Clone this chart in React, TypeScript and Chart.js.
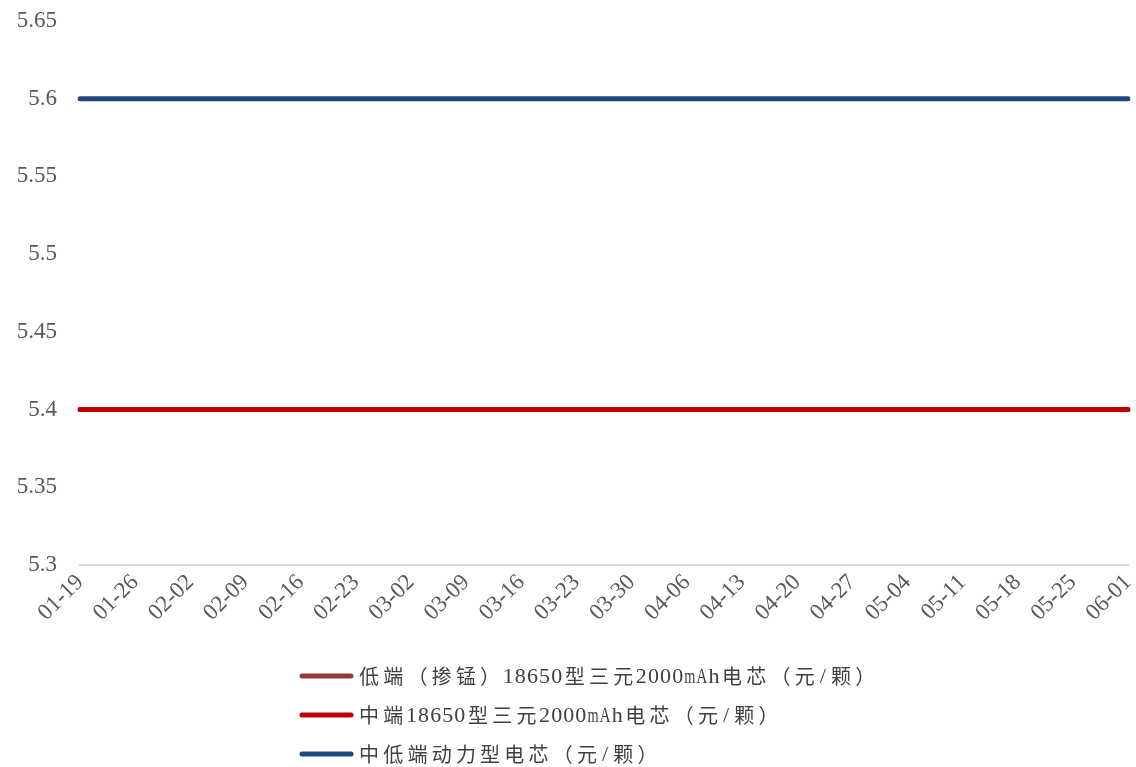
import React, { useEffect, useRef } from "react";
import { Chart, registerables } from "chart.js";

Chart.register(...registerables);

const categories = [
  "01-19", "01-26", "02-02", "02-09", "02-16", "02-23", "03-02", "03-09", "03-16", "03-23",
  "03-30", "04-06", "04-13", "04-20", "04-27", "05-04", "05-11", "05-18", "05-25", "06-01",
];
const lowEndValues = [5.4, 5.4, 5.4, 5.4, 5.4, 5.4, 5.4, 5.4, 5.4, 5.4, 5.4, 5.4, 5.4, 5.4, 5.4, 5.4, 5.4, 5.4, 5.4, 5.4];
const midEndValues = [5.4, 5.4, 5.4, 5.4, 5.4, 5.4, 5.4, 5.4, 5.4, 5.4, 5.4, 5.4, 5.4, 5.4, 5.4, 5.4, 5.4, 5.4, 5.4, 5.4];
const powerValues = [5.6, 5.6, 5.6, 5.6, 5.6, 5.6, 5.6, 5.6, 5.6, 5.6, 5.6, 5.6, 5.6, 5.6, 5.6, 5.6, 5.6, 5.6, 5.6, 5.6];
const seriesNames = [
  "低端（掺锰）18650型三元2000mAh电芯（元/颗）",
  "中端18650型三元2000mAh电芯（元/颗）",
  "中低端动力型电芯（元/颗）",
];
const yMin = 5.3;
const yMax = 5.65;
const yStep = 0.05;

const TICK_FONT = "'Liberation Serif', 'Noto Sans CJK SC', serif";
const TEXT = "#595959";
const LEGEND_TEXT = "#404040";

const legendPlugin = {
  id: "stackedLegend",
  afterDraw(chart: any) {
    const ctx = chart.ctx;
    ctx.save();
    const cell = 24.2;
    chart.data.datasets.forEach((ds: any, i: number) => {
      const y = 676 + i * 39;
      ctx.strokeStyle = ds.borderColor;
      ctx.lineWidth = 5;
      ctx.lineCap = "round";
      ctx.beginPath();
      ctx.moveTo(302, y);
      ctx.lineTo(351, y);
      ctx.stroke();
      ctx.fillStyle = LEGEND_TEXT;
      ctx.textBaseline = "middle";
      ctx.textAlign = "center";
      let x = 357;
      for (const ch of Array.from(ds.label as string)) {
        const full = ch.charCodeAt(0) > 0x2e80;
        const w = full ? cell : cell / 2;
        ctx.font = full ? "20px 'Noto Sans CJK SC'" : "22px 'Liberation Serif'";
        ctx.fillText(ch, x + w / 2, full ? y : y + 1, full ? w : w - 1);
        x += w;
      }
    });
    ctx.restore();
  },
};

export default function App() {
  const ref = useRef<HTMLCanvasElement | null>(null);
  useEffect(() => {
    if (!ref.current) return;
    const chart = new Chart(ref.current, {
      type: "line",
      data: {
        labels: categories,
        datasets: [
          { label: seriesNames[0], data: lowEndValues, order: 3, borderColor: "#953735", backgroundColor: "#953735", borderWidth: 5, pointRadius: 0, borderCapStyle: "round" },
          { label: seriesNames[1], data: midEndValues, order: 2, borderColor: "#C00000", backgroundColor: "#C00000", borderWidth: 5, pointRadius: 0, borderCapStyle: "round" },
          { label: seriesNames[2], data: powerValues, order: 1, borderColor: "#1F497D", backgroundColor: "#1F497D", borderWidth: 5, pointRadius: 0, borderCapStyle: "round" },
        ],
      },
      options: {
        animation: false,
        responsive: false,
        maintainAspectRatio: false,
        layout: { padding: { left: 0, right: 8, top: 21, bottom: 122 } },
        plugins: { legend: { display: false }, tooltip: { enabled: false } },
        scales: {
          x: {
            grid: { display: false, drawTicks: false },
            border: { display: true, color: "#D9D9D9", width: 2 },
            ticks: {
              autoSkip: false,
              minRotation: 45,
              maxRotation: 45,
              color: TEXT,
              padding: 4,
              font: { family: TICK_FONT, size: 23 },
            },
            afterFit(scale: any) {
              scale.height = 80;
              scale.paddingLeft = 0;
              scale.paddingRight = 0;
            },
          },
          y: {
            min: yMin,
            max: yMax,
            grid: { display: false, drawTicks: false },
            border: { display: false },
            ticks: {
              stepSize: yStep,
              color: TEXT,
              padding: 23,
              font: { family: TICK_FONT, size: 23 },
              callback: (v: any) => String(Math.round(Number(v) * 100) / 100),
            },
            afterFit(scale: any) {
              scale.width = 80;
              scale.paddingTop = 0;
              scale.paddingBottom = 0;
            },
          },
        },
      },
      plugins: [legendPlugin],
    } as any);
    return () => chart.destroy();
  }, []);
  return (
    <div style={{ position: "absolute", left: 0, top: 0, width: 1136, height: 767, background: "#fff" }}>
      <canvas ref={ref} width={1136} height={767} />
    </div>
  );
}
